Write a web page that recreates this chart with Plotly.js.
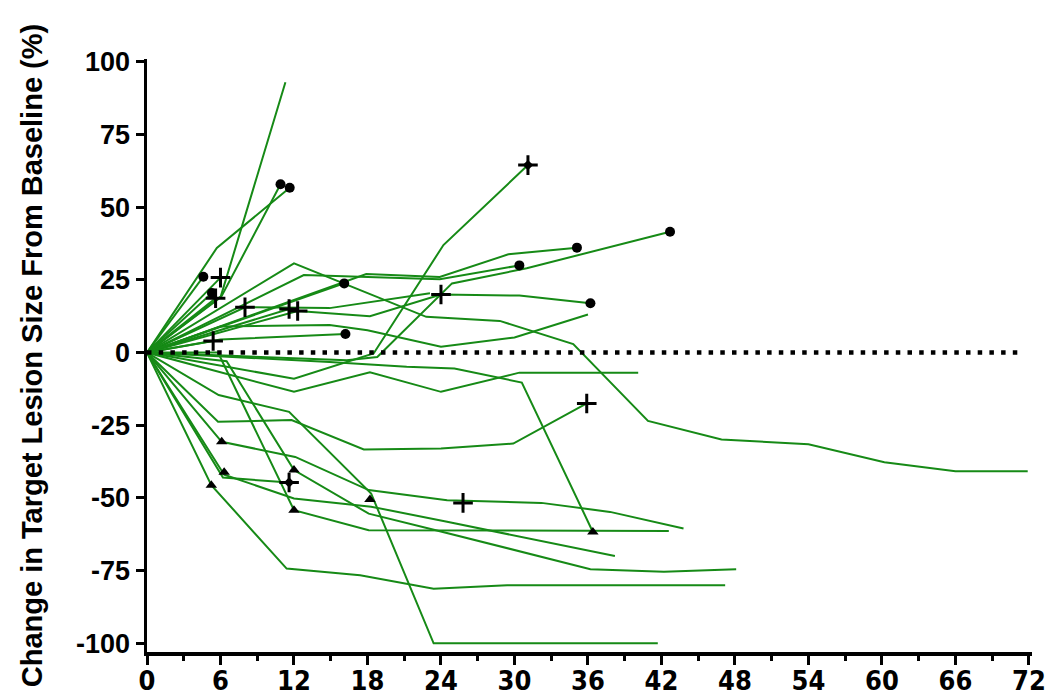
<!DOCTYPE html>
<html>
<head>
<meta charset="utf-8">
<script src="https://cdn.plot.ly/plotly-3.0.1.min.js"></script>
<style>html,body{margin:0;padding:0;background:#fff;}#chart{width:1055px;height:696px;}</style>
</head>
<body>
<div id="chart"></div>
<script>
// ---- Data (months on study, % change from baseline) ----
const xTicks = [0, 6, 12, 18, 24, 30, 36, 42, 48, 54, 60, 66, 72];
const yTicks = [-100, -75, -50, -25, 0, 25, 50, 75, 100];

const m01 = [0, 6, 11.3];                 const c01 = [0, 19, 93];
const m02 = [0, 5.7, 11.65];              const c02 = [0, 36, 56.7];
const m03 = [0, 6.1, 10.9];               const c03 = [0, 19.5, 57.9];
const m04 = [0, 4.6];                     const c04 = [0, 26.1];
const m05 = [0, 6];                       const c05 = [0, 25.8];
const m06 = [0, 5.3];                     const c06 = [0, 20.5];
const m07 = [0, 5.6];                     const c07 = [0, 18.7];
const m08 = [0, 8, 14.9, 23.1];           const c08 = [0, 15.6, 15.3, 20.4];
const m09 = [0, 12, 22.8, 28.8, 34.8, 40.9, 46.9, 54, 60.2, 66, 71.9];
const c09 = [0, 30.7, 12.3, 10.9, 2.9, -23.5, -29.9, -31.5, -37.7, -40.8, -40.8];
const m10 = [0, 12.8, 23.9, 30.4];        const c10 = [0, 26.7, 25.2, 30];
const m11 = [0, 17.9, 23.9, 29.5, 35.1];  const c11 = [0, 27, 26, 33.8, 36.1];
const m12 = [0, 16.1];                    const c12 = [0, 23.8];
const m13 = [0, 16.3, 18.8, 24, 24.9, 31, 39.4, 42.7];
const c13 = [0, -2.6, -1.5, 20, 23.8, 29, 38.1, 41.6];
const m14 = [0, 11.6];                    const c14 = [0, 15];
const m15 = [0, 12.3, 18.2, 24, 30.4, 36.2];
const c15 = [0, 14.3, 12.5, 20, 19.6, 17];
const m16 = [0, 6, 14.9, 18, 24, 30, 36]; const c16 = [0, 9, 9.5, 7.7, 2, 5.2, 13.1];
const m17 = [0, 5.4];                     const c17 = [0, 4];
const m18 = [0, 6, 16.2];                 const c18 = [0, 4.5, 6.4];
const m19 = [0, 12, 18.5, 24.2, 31.1];    const c19 = [0, -9, -0.3, 37, 64.5];
const m20 = [0, 12, 18.2, 24, 30.4, 40.1];
const c20 = [0, -13.5, -6.8, -13.5, -6.9, -6.9];
const m21 = [0, 14.9, 21.2, 25.1, 30.6, 36.4];
const c21 = [0, -3.2, -4.9, -5.5, -10.3, -61.7];
const m22 = [0, 5.8, 12, 18.1, 42.6];     const c22 = [0, 0, -54.2, -61.1, -61.4];
const m23 = [0, 5.85, 11.6, 18.3, 23.4, 41.7];
const c23 = [0, -14.6, -20.4, -48.5, -100, -100];
const m24 = [0, 5.8, 11.8, 17.7, 24, 29.9, 35.9];
const c24 = [0, -23.8, -23.2, -33.3, -33, -31.3, -17.5];
const m25 = [0, 6.1, 12.1, 18.1, 24.5, 32.2, 37.8, 43.8];
const c25 = [0, -30.7, -35.9, -47.3, -50.8, -51.7, -54.8, -60.5];
const m26 = [0, 5.25, 11.4, 17.4, 23.4, 29.4, 47.2];
const c26 = [0, -45.6, -74.3, -76.6, -81.2, -80, -80];
const m27 = [0, 6.3, 12, 18.3, 24.5, 38.2];
const c27 = [0, -42, -50.2, -53, -58.2, -70];
const m28 = [0, 6.2, 11.6];               const c28 = [0, -43, -44.7];
const m29 = [0, 6.5, 12, 18.1, 23.5, 36.2, 42.2, 48.1];
const c29 = [0, -3, -40.4, -55.4, -61, -74.5, -75.4, -74.5];

const circleMonths = [4.6, 5.3, 10.9, 11.65, 16.1, 16.2, 30.4, 35.1, 36.2, 42.7];
const circleChange = [26.1, 20.5, 57.9, 56.7, 23.8, 6.4, 30, 36.1, 17, 41.6];
const plusMonths = [6, 5.6, 5.4, 8, 11.6, 12.3, 24, 31.1, 35.9, 25.8, 11.6];
const plusChange = [25.8, 18.7, 4, 15.6, 15, 14.3, 20, 64.5, -17.5, -51.7, -44.7];
const starMonths = [31.1, 11.6];
const starChange = [64.5, -44.7];
const triMonths = [6.1, 6.3, 5.25, 12, 12, 18.2, 36.4];
const triChange = [-30.7, -41.2, -45.6, -40.4, -54.2, -50.5, -61.7];

const patients = [
  [m01,c01],[m02,c02],[m03,c03],[m04,c04],[m05,c05],[m06,c06],[m07,c07],[m08,c08],
  [m09,c09],[m10,c10],[m11,c11],[m12,c12],[m13,c13],[m14,c14],[m15,c15],[m16,c16],
  [m17,c17],[m18,c18],[m19,c19],[m20,c20],[m21,c21],[m22,c22],[m23,c23],[m24,c24],
  [m25,c25],[m26,c26],[m27,c27],[m28,c28],[m29,c29]
];

const GREEN = '#168a16';
const traces = patients.map(p => ({
  x: p[0], y: p[1], type: 'scatter', mode: 'lines',
  line: {color: GREEN, width: 2}, hoverinfo: 'skip'
}));

traces.push({x: circleMonths, y: circleChange, type: 'scatter', mode: 'markers',
  marker: {symbol: 'circle', size: 10, color: 'black'}});
traces.push({x: triMonths, y: triChange, type: 'scatter', mode: 'markers',
  marker: {symbol: 'triangle-up', size: 10, color: 'black'}});
traces.push({x: starMonths, y: starChange, type: 'scatter', mode: 'markers',
  marker: {symbol: 'diamond', size: 8, color: 'black'}});
traces.push({x: plusMonths, y: plusChange, type: 'scatter', mode: 'markers',
  marker: {symbol: 'cross-thin', size: 14, color: 'black', line: {color: 'black', width: 3}}});

const layout = {
  width: 1055, height: 696,
  margin: {l: 147, r: 23, t: 59, b: 44},
  paper_bgcolor: 'white', plot_bgcolor: 'white',
  showlegend: false,
  xaxis: {
    range: [0, 72.25], tickvals: xTicks, ticktext: xTicks.map(String),
    ticks: 'outside', ticklen: 9, tickwidth: 3, tickcolor: 'black',
    showline: true, linewidth: 3.5, linecolor: 'black',
    showgrid: false, zeroline: false, ticklabelstandoff: -7,
    minor: {dtick: 3, tick0: 0, ticks: 'outside', ticklen: 5, tickwidth: 3, tickcolor: 'black', showgrid: false},
    tickfont: {family: 'Liberation Sans Narrow, DejaVu Sans Condensed, sans-serif', size: 27, weight: 'bold', color: 'black'}
  },
  yaxis: {
    range: [-103, 101], tickvals: yTicks, ticktext: yTicks.map(String),
    ticks: 'outside', ticklen: 8, tickwidth: 3, tickcolor: 'black',
    showline: true, linewidth: 3.5, linecolor: 'black',
    showgrid: false, zeroline: false,
    tickfont: {family: 'Liberation Sans, Arial, sans-serif', size: 27, weight: 'bold', color: 'black'},
    title: {text: 'Change in Target Lesion Size From Baseline (%)', standoff: 26,
      font: {family: 'Liberation Sans, Arial, sans-serif', size: 29, weight: 'bold', color: 'black'}}
  },
  shapes: [{type: 'line', xref: 'x', yref: 'y', x0: 0, x1: 71.6, y0: 0, y1: 0,
    line: {color: 'black', width: 4.5, dash: '4.5px,7.2px'}}]
};

Plotly.newPlot('chart', traces, layout, {displayModeBar: false, staticPlot: true});
</script>
</body>
</html>
